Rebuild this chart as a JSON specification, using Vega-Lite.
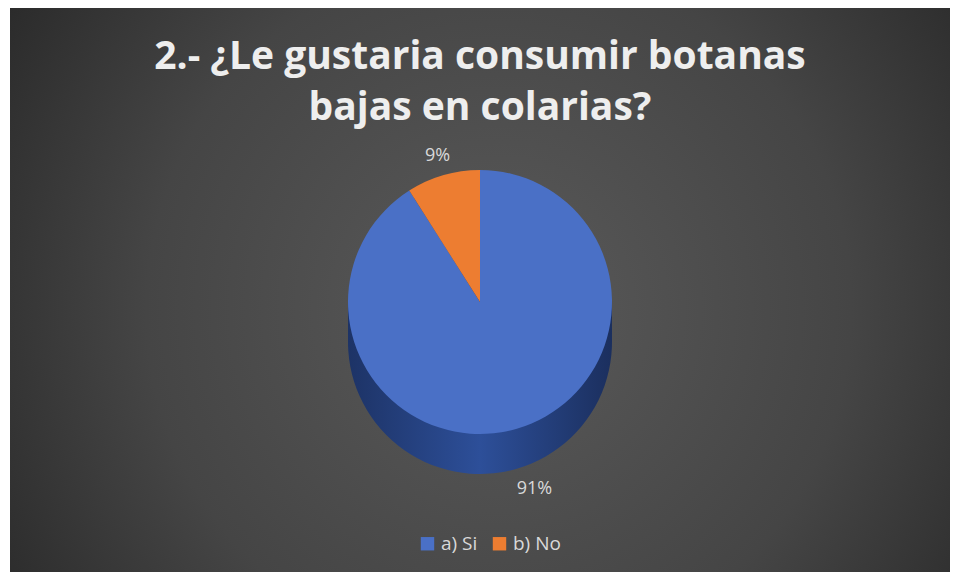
{
  "$schema": "https://vega.github.io/schema/vega-lite/v6.json",
  "width": 940,
  "height": 564,
  "autosize": {"type": "none"},
  "padding": {"left": 10, "top": 8, "right": 9, "bottom": 8},
  "background": "white",
  "config": {"view": {"stroke": "#bfbfbf", "strokeWidth": 1}},
  "title": {
    "text": ["2.- ¿Le gustaria consumir  botanas", "bajas en colarias?"],
    "orient": "top",
    "anchor": "middle",
    "baseline": "alphabetic",
    "offset": -151,
    "font": "Open Sans",
    "fontSize": 39,
    "fontWeight": "bold",
    "color": "#eeeeee",
    "lineHeight": 51
  },
  "data": {
    "values": [
      {"respuesta": "a) Si", "porcentaje": 91, "etiqueta": "91%", "orden": 1},
      {"respuesta": "b) No", "porcentaje": 9, "etiqueta": "9%", "orden": 2}
    ]
  },
  "layer": [
    {
      "mark": {
        "type": "rect",
        "fill": {
          "gradient": "radial",
          "x1": 0.52, "y1": 0.52, "r1": 0,
          "x2": 0.52, "y2": 0.52, "r2": 0.75,
          "stops": [
            {"offset": 0, "color": "#5a5a5a"},
            {"offset": 0.5, "color": "#454545"},
            {"offset": 1, "color": "#1c1c1c"}
          ]
        }
      },
      "encoding": {}
    },
    {
      "mark": {
        "type": "arc", "outerRadius": 132, "yOffset": 52,
        "fill": {"gradient": "linear", "x1": 0, "y1": 0, "x2": 1, "y2": 0,
          "stops": [{"offset": 0, "color": "#1d3366"}, {"offset": 0.5, "color": "#2d4f99"}, {"offset": 1, "color": "#1b2f5e"}]}
      },
      "encoding": {"theta": {"field": "porcentaje", "type": "quantitative", "stack": true}, "order": {"field": "orden", "type": "quantitative"}}
    },
    {
      "mark": {
        "type": "arc", "outerRadius": 132, "yOffset": 42,
        "fill": {"gradient": "linear", "x1": 0, "y1": 0, "x2": 1, "y2": 0,
          "stops": [{"offset": 0, "color": "#1d3366"}, {"offset": 0.5, "color": "#2d4f99"}, {"offset": 1, "color": "#1b2f5e"}]}
      },
      "encoding": {"theta": {"field": "porcentaje", "type": "quantitative", "stack": true}, "order": {"field": "orden", "type": "quantitative"}}
    },
    {
      "mark": {
        "type": "arc", "outerRadius": 132, "yOffset": 32,
        "fill": {"gradient": "linear", "x1": 0, "y1": 0, "x2": 1, "y2": 0,
          "stops": [{"offset": 0, "color": "#1d3366"}, {"offset": 0.5, "color": "#2d4f99"}, {"offset": 1, "color": "#1b2f5e"}]}
      },
      "encoding": {"theta": {"field": "porcentaje", "type": "quantitative", "stack": true}, "order": {"field": "orden", "type": "quantitative"}}
    },
    {
      "mark": {
        "type": "arc", "outerRadius": 132, "yOffset": 22,
        "fill": {"gradient": "linear", "x1": 0, "y1": 0, "x2": 1, "y2": 0,
          "stops": [{"offset": 0, "color": "#1d3366"}, {"offset": 0.5, "color": "#2d4f99"}, {"offset": 1, "color": "#1b2f5e"}]}
      },
      "encoding": {"theta": {"field": "porcentaje", "type": "quantitative", "stack": true}, "order": {"field": "orden", "type": "quantitative"}}
    },
    {
      "mark": {"type": "arc", "outerRadius": 132, "yOffset": 12},
      "encoding": {
        "theta": {"field": "porcentaje", "type": "quantitative", "stack": true},
        "order": {"field": "orden", "type": "quantitative"},
        "color": {
          "field": "respuesta", "type": "nominal",
          "scale": {"domain": ["a) Si", "b) No"], "range": ["#4a70c6", "#ed7d31"]},
          "legend": {
            "title": null, "orient": "none", "direction": "horizontal",
            "legendX": 408, "legendY": 526,
            "symbolType": "square", "symbolSize": 180, "symbolStrokeWidth": 0,
            "labelColor": "#d9d9d9", "labelFontSize": 19, "labelFont": "Open Sans",
            "columnPadding": 12, "labelOffset": 4
          }
        }
      }
    },
    {
      "mark": {"type": "text", "radius": 195, "yOffset": 12, "fontSize": 18, "font": "Open Sans", "color": "#d9d9d9"},
      "encoding": {
        "theta": {"field": "porcentaje", "type": "quantitative", "stack": true},
        "order": {"field": "orden", "type": "quantitative"},
        "text": {"condition": {"test": "datum.respuesta == 'a) Si'", "field": "etiqueta"}, "value": ""}
      }
    },
    {
      "mark": {"type": "text", "radius": 152, "yOffset": 12, "fontSize": 18, "font": "Open Sans", "color": "#d9d9d9"},
      "encoding": {
        "theta": {"field": "porcentaje", "type": "quantitative", "stack": true},
        "order": {"field": "orden", "type": "quantitative"},
        "text": {"condition": {"test": "datum.respuesta == 'b) No'", "field": "etiqueta"}, "value": ""}
      }
    }
  ]
}
